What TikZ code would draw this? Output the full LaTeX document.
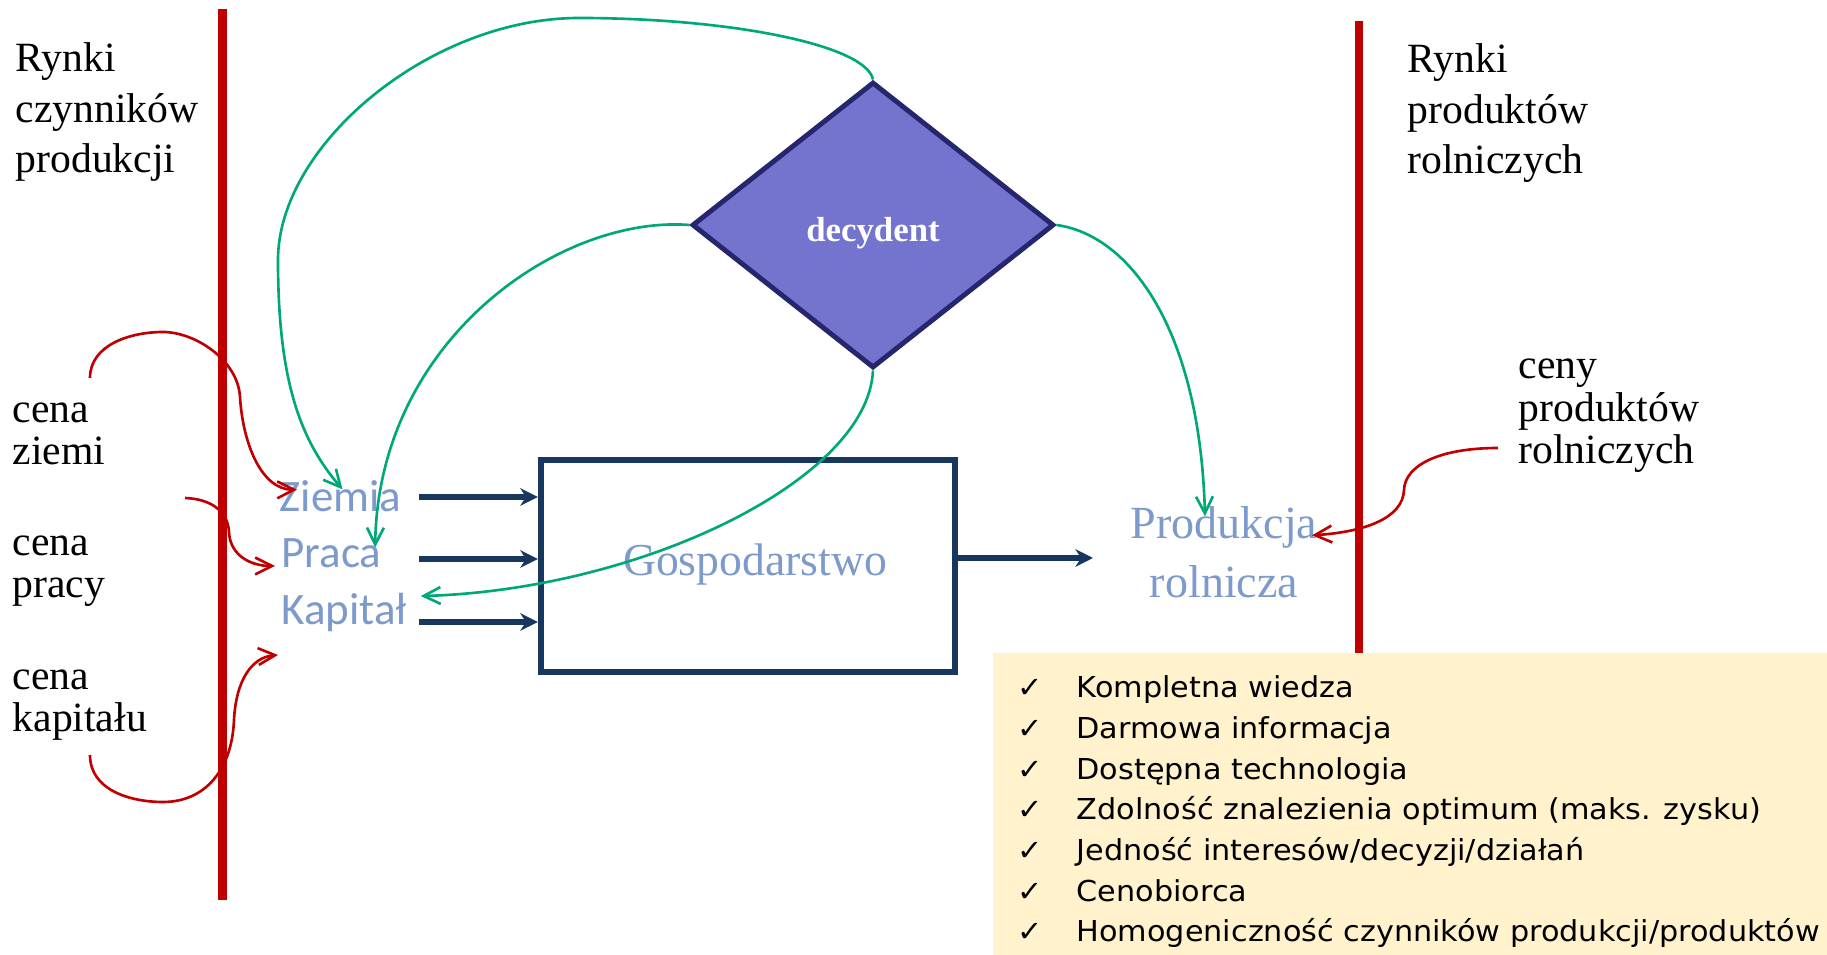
\documentclass[tikz,border=0pt]{standalone}
\usepackage{fontspec}
\setmainfont{Liberation Serif}
\newfontfamily\carlito{Carlito}
\newfontfamily\dejavu[FakeStretch=1.05]{DejaVu Sans}
\usetikzlibrary{shapes.geometric, arrows.meta}
\definecolor{rynek}{RGB}{192,0,0}
\definecolor{granat}{RGB}{23,55,94}
\definecolor{zielony}{RGB}{0,168,120}
\definecolor{fiolet}{RGB}{116,116,206}
\definecolor{obrys}{RGB}{38,38,110}
\definecolor{blekit}{RGB}{124,154,204}
\definecolor{krem}{RGB}{255,242,204}
\newcommand{\znak}{\makebox[5.9mm][l]{✓}}
\tikzstyle{opis}=[anchor=base west, inner sep=0, align=left, font=\fontsize{11.85}{14.4}\selectfont]
\tikzstyle{cena}=[opis, font=\fontsize{11.85}{11.95}\selectfont]
\tikzstyle{czynnik}=[anchor=base west, inner sep=0, text=blekit, font=\carlito\fontsize{12.8}{15}\selectfont]
\tikzstyle{wejscie}=[line width=1.8pt, granat, -{Stealth[length=5pt,width=5pt]}]
\tikzstyle{decyzja}=[line width=0.75pt, zielony, -{Straight Barb[length=4.8pt,width=4.8pt]}]
\tikzstyle{bodziec}=[line width=0.75pt, rynek, -{Straight Barb[length=4.8pt,width=4.8pt]}]

\begin{document}
\begin{tikzpicture}[x=0.1mm, y=-0.1mm]
\useasboundingbox (0,0) rectangle (1827,955);
% Markets
    \draw[rynek, line width=2.3pt] (222.5,9) -- (222.5,900);
    \draw[rynek, line width=2.3pt] (1359,21) -- (1359,653);
    \node[opis] (rczp) at (15,173) {Rynki\\czynników\\produkcji};
    \node[opis] (rprd) at (1407,174) {Rynki\\produktów\\rolniczych};
% Prices
    \node[cena] (cziemi) at (12,465) {cena\\ziemi};
    \node[cena] (cpracy) at (12,598) {cena\\pracy};
    \node[cena] (ckap) at (12,732) {cena\\kapitału};
    \node[cena, font=\fontsize{11.85}{12.2}\selectfont] (cprod) at (1518,464) {ceny\\produktów\\rolniczych};
% Farm
    \node[diamond, draw=obrys, fill=fiolet, line width=1.4pt, minimum width=36.2mm, minimum height=28.6mm, inner sep=0, text=white, text height=9.6pt, text depth=0pt, font=\bfseries\fontsize{9.9}{12}\selectfont] (dec) at (873,225) {decydent};
    \node[draw=granat, line width=1.8pt, minimum width=41.4mm, minimum height=21.2mm, text=blekit, text height=5.4pt, text depth=0pt, font=\fontsize{13}{15}\selectfont] (gosp) at (748,566) {\hspace*{1.4mm}Gospodarstwo};
    \node[czynnik] (ziemia) at (279,512) {Ziemia};
    \node[czynnik] (praca) at (281,568) {Praca};
    \node[czynnik] (kapital) at (281,625) {Kapitał};
    \node[anchor=base, inner sep=0, align=center, text=blekit, font=\fontsize{13.1}{16.8}\selectfont] (prod) at (1224,598) {Produkcja\\rolnicza};
% Inputs and output
    \coordinate (wz) at (419,497);
    \coordinate (wp) at (419,559);
    \coordinate (wk) at (419,622);
    \coordinate (wy) at (1093,558);
    \draw[wejscie] (wz) -- (wz -| gosp.west);
    \draw[wejscie] (wp) -- (wp -| gosp.west);
    \draw[wejscie] (wk) -- (wk -| gosp.west);
    \draw[wejscie] (gosp.east |- wy) -- (wy);
% Decisions
    \draw[decyzja] (dec.north) .. controls (866,45) and (730,18) .. (579,18)
        .. controls (430,18) and (278,145) .. (278,260)
        .. controls (278,380) and (300,440) .. ([shift={(2,9)}]ziemia.north);
    \draw[decyzja] (dec.west) .. controls (560,215) and (378,340) .. ([shift={(-7,9)}]praca.north east);
    \draw[decyzja] (dec.south) .. controls (868,480) and (640,590) .. ([shift={(13,3)}]kapital.north east);
    \draw[decyzja] (dec.east) .. controls (1130,235) and (1200,330) .. ([shift={(-19,10)}]prod.north);
% Prices in
    \coordinate (sz) at (90,378);
    \coordinate (sp) at (185,498);
    \coordinate (sk) at (90,755);
    \coordinate (sr) at (1498,448);
    \draw[bodziec] (sz) .. controls (90,345) and (130,332) .. (163,332)
        .. controls (195,332) and (238,360) .. (240,397)
        .. controls (243,445) and (262,490) .. ([shift={(18,-7)}]ziemia.west);
    \draw[bodziec] (sp) .. controls (212,499) and (228,512) .. (229,532)
        .. controls (230,555) and (250,566) .. ([shift={(-6,-2)}]praca.base west);
    \draw[bodziec] (sk) .. controls (90,790) and (130,802) .. (163,802)
        .. controls (205,802) and (232,770) .. (234,720)
        .. controls (236,680) and (252,657) .. ([shift={(-3,30)}]kapital.base west);
    \draw[bodziec] (sr) .. controls (1440,448) and (1405,465) .. (1404,490)
        .. controls (1403,518) and (1365,532) .. ([shift={(-6,29)}]prod.north east);
% Assumptions
    \fill[krem] (993,653) rectangle (1827,955);
    \node[anchor=base west, inner sep=0, align=left, font=\dejavu\fontsize{8.2}{11.58}\selectfont] (lista) at (1017,942)
        {\znak Kompletna wiedza\\
         \znak Darmowa informacja\\
         \znak Dostępna technologia\\
         \znak Zdolność znalezienia optimum (maks. zysku)\\
         \znak Jedność interesów/decyzji/działań\\
         \znak Cenobiorca\\
         \znak Homogeniczność czynników produkcji/produktów};
\end{tikzpicture}
\end{document}
